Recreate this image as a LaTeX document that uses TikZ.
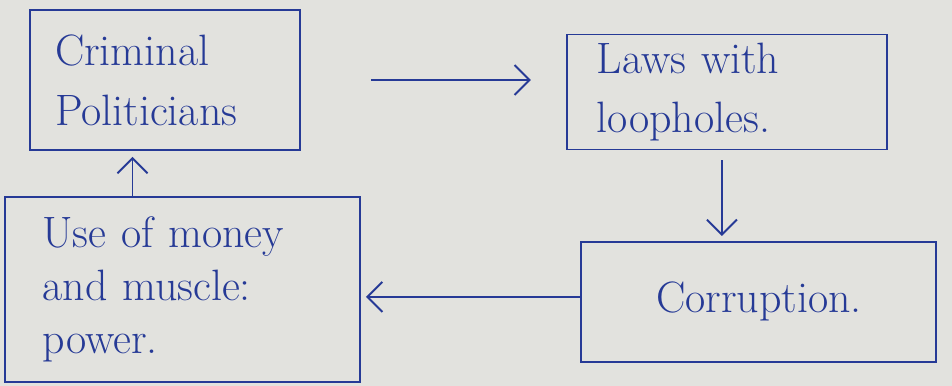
\documentclass[tikz,border=0pt]{standalone}
\usepackage{tikz}
\usetikzlibrary{arrows.meta,positioning}
\definecolor{inkblue}{RGB}{38,58,150}
\definecolor{paper}{RGB}{226,226,222}

\begin{document}
\begin{tikzpicture}[
  every node/.style={font=\fontsize{25}{34}\selectfont, text=inkblue},
  box/.style={draw=inkblue, line width=1.1pt, align=left},
  arr/.style={-{Straight Barb[length=3mm,width=6mm]}, draw=inkblue, line width=1.1pt}
]

% Paper
\fill[paper] (0,0) rectangle (19.04,7.72);
\useasboundingbox (0,0) rectangle (19.04,7.72);

% Boxes
\node[
  box,
  inner xsep=0.5cm,
  text width=4.4cm,
  minimum height=2.8cm
] (crim) at (3.3,6.12) {Criminal\\Politicians};

\node[
  box,
  inner xsep=0.6cm,
  text width=5.2cm,
  minimum height=2.3cm,
  right=5.3cm of crim,
  yshift=-0.24cm
] (laws) {Laws with\\loopholes.};

\node[
  box,
  align=center,
  inner xsep=0.5cm,
  text width=6.1cm,
  minimum height=2.4cm,
  below=1.81cm of laws,
  xshift=0.64cm
] (corr) {Corruption.};

\node[
  box,
  inner xsep=0.75cm,
  text width=5.6cm,
  minimum height=3.7cm,
  font=\fontsize{25}{30}\selectfont,
  below=0.9cm of crim,
  xshift=0.35cm
] (money) {Use of money\\and muscle:\\power.};

% Arrows
\draw[arr, shorten <=1.4cm, shorten >=0.7cm] (crim.east) -- (crim.east -| laws.west);
\draw[arr, shorten <=0.2cm, shorten >=0.1cm] ([xshift=-0.1cm]laws.south) -- ([xshift=-0.1cm]laws.south |- corr.north);
\draw[arr, shorten >=0.1cm] ([yshift=0.1cm]corr.west) -- ([yshift=0.1cm]corr.west -| money.east);
\draw[arr, shorten >=0.12cm] ([xshift=-1cm]money.north) -- ([xshift=-1cm]money.north |- crim.south);

\end{tikzpicture}
\end{document}
